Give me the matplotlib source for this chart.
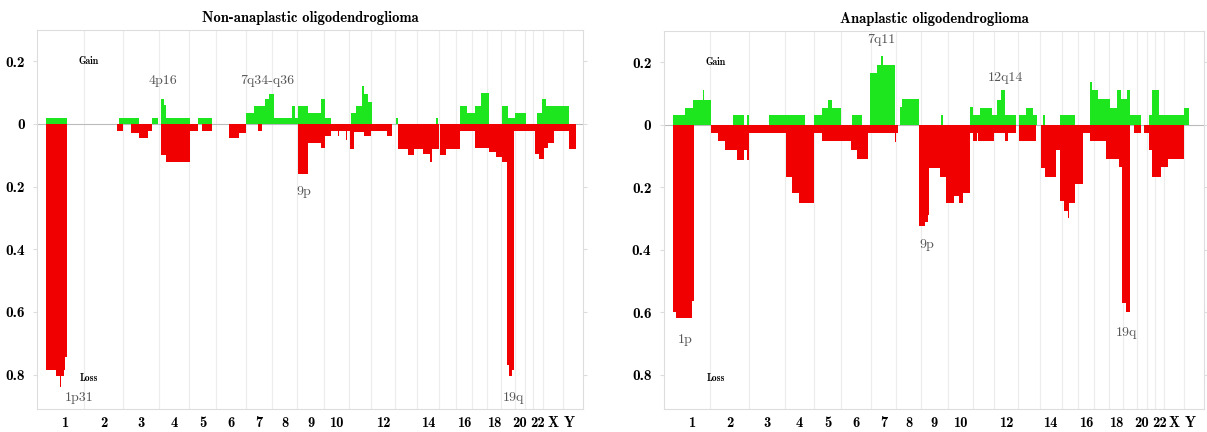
import matplotlib
matplotlib.use("Agg")
import matplotlib.pyplot as plt
import numpy as np

# chromosome widths along the genome axis (1..22, X, Y)
chrom_names = [str(i) for i in range(1, 23)] + ["X", "Y"]
chrom_len = [38, 39, 36, 30, 27, 30, 26, 25, 27, 25, 22, 24, 22, 22, 17, 16,
             15, 14, 14, 10, 8, 10, 20, 13]
shown_labels = ["1", "2", "3", "4", "5", "6", "7", "8", "9", "10", "12", "14",
                "16", "18", "20", "22", "X", "Y"]

# (start, end, frequency) segments, non-anaplastic group
nonana_gain = [
    (0, 21.3, 0.02), (73.2, 92.5, 0.02), (105.9, 111.7, 0.02),
    (114.8, 117.5, 0.08), (117.5, 120.2, 0.06), (120.2, 144.4, 0.02),
    (152.1, 165.5, 0.02), (200.2, 207.8, 0.035), (207.8, 219.4, 0.057),
    (219.4, 223.2, 0.08), (223.2, 227.8, 0.095), (227.8, 246.3, 0.02),
    (246.3, 248.5, 0.057), (248.5, 252.1, 0.02), (252.1, 261.7, 0.057),
    (261.7, 275.2, 0.035), (275.2, 279, 0.08), (279, 284.8, 0.02),
    (304.8, 309.8, 0.035), (309.8, 315.5, 0.057), (315.5, 317.5, 0.12),
    (317.5, 322, 0.095), (322, 326.3, 0.07), (350.2, 351.5, 0.02),
    (390, 391.5, 0.02), (413.6, 421.3, 0.057), (421.3, 429, 0.035),
    (429, 434.8, 0.057), (434.8, 442.5, 0.098), (455.9, 461.7, 0.057),
    (461.7, 469.4, 0.02), (469.4, 480.2, 0.035), (490.5, 496.3, 0.035),
    (496.3, 500.2, 0.08), (500.2, 523.2, 0.057),
]
nonana_loss = [
    (0, 9.8, 0.787), (9.8, 13.6, 0.805), (13.6, 14.8, 0.84),
    (14.8, 17.5, 0.805), (17.5, 19.4, 0.787), (19.4, 21.3, 0.745),
    (71.3, 77.1, 0.022), (84.8, 92.5, 0.03), (93.2, 102.1, 0.044),
    (102.1, 105.9, 0.022), (114.8, 120.2, 0.1), (120.2, 144.4, 0.12),
    (144.4, 152.1, 0.022), (155.9, 165.5, 0.022), (182.8, 192.5, 0.044),
    (192.5, 200.2, 0.03), (211.7, 215.5, 0.022), (252.1, 261.7, 0.16),
    (261.7, 275.2, 0.06), (275.2, 279, 0.078), (279, 284.8, 0.04),
    (284.8, 292, 0.022), (292, 293, 0.04), (293, 299.5, 0.022),
    (299.5, 300.5, 0.05), (300.5, 304, 0.022), (304, 307.8, 0.08),
    (307.8, 317.5, 0.025), (317.5, 325.2, 0.04), (325.2, 340.5, 0.022),
    (340.5, 345.5, 0.04), (352.1, 361.7, 0.08), (361.7, 367.5, 0.1),
    (367.5, 377.1, 0.08), (377.1, 384, 0.095), (384, 385.5, 0.12),
    (385.5, 392.5, 0.08), (394.4, 400.2, 0.1), (400.2, 413.6, 0.08),
    (413.6, 429, 0.022), (429, 442.5, 0.078), (442.5, 450.2, 0.09),
    (450.2, 455.9, 0.105), (455.9, 460.9, 0.12), (460.9, 462.5, 0.77),
    (462.5, 465.5, 0.805), (465.5, 467.5, 0.787), (467.5, 488.6, 0.022),
    (488.6, 492.5, 0.095), (492.5, 498.2, 0.113), (498.2, 502.1, 0.078),
    (502.1, 507.8, 0.062), (507.8, 523.2, 0.022), (523.2, 529.8, 0.08),
]

# (start, end, frequency) segments, anaplastic group
ana_gain = [
    (0, 11.8, 0.03), (11.8, 20.3, 0.054), (20.3, 30.5, 0.08),
    (30.5, 31.7, 0.11), (31.7, 38.8, 0.08), (60.7, 72.2, 0.03),
    (74.9, 77.2, 0.03), (97.2, 122, 0.03), (122, 122.8, 0.06),
    (122.8, 133.8, 0.03), (142.6, 151.1, 0.03), (151.1, 156.8, 0.054),
    (156.8, 160.7, 0.08), (160.7, 169.5, 0.054), (180.7, 191.5, 0.03),
    (199.2, 206.8, 0.165), (206.8, 210.7, 0.19), (210.7, 212.6, 0.22),
    (212.6, 224.9, 0.19), (229.9, 231.8, 0.057), (231.8, 249.2, 0.082),
    (271.5, 273.4, 0.03), (300.3, 303, 0.057), (303, 310.7, 0.03),
    (310.7, 322.2, 0.054), (322.2, 328, 0.03), (328, 331.8, 0.08),
    (331.8, 335.7, 0.11), (335.7, 347.2, 0.03), (350.3, 356.8, 0.03),
    (356.8, 364.5, 0.054), (364.5, 368.4, 0.03), (374, 376, 0.03),
    (391.5, 406.8, 0.03), (422.2, 424.2, 0.137), (424.2, 429.9, 0.11),
    (429.9, 441.5, 0.082), (441.5, 449.2, 0.054), (449.2, 453, 0.11),
    (453, 458.8, 0.082), (458.8, 461.8, 0.11), (461.8, 473.4, 0.03),
    (481.8, 484.9, 0.03), (484.9, 491.5, 0.11), (491.5, 516.5, 0.03),
    (516.5, 522.2, 0.054),
]
ana_loss = [
    (0, 3, 0.6), (3, 19.5, 0.62), (19.5, 21.5, 0.565),
    (38.8, 45.3, 0.027), (45.3, 53, 0.052), (53, 64.5, 0.082),
    (64.5, 72.2, 0.112), (72.2, 75.3, 0.082), (75.3, 77.2, 0.112),
    (77.2, 114.5, 0.027), (114.5, 120.3, 0.168), (120.3, 128, 0.22),
    (128, 142.2, 0.25), (142.2, 150.3, 0.027), (150.3, 179.9, 0.052),
    (179.9, 185.7, 0.082), (185.7, 197.2, 0.11), (197.2, 224.5, 0.027),
    (224.5, 225.5, 0.055), (225.5, 228, 0.027), (249.2, 254.9, 0.325),
    (254.9, 258, 0.31), (258, 258.8, 0.29), (258.8, 270.3, 0.138),
    (270.3, 276.1, 0.168), (276.1, 283.8, 0.25), (283.8, 289.5, 0.227),
    (289.5, 293.4, 0.25), (293.4, 300.3, 0.22), (300.3, 303, 0.027),
    (303, 307, 0.052), (307, 308.8, 0.027), (308.8, 324.2, 0.052),
    (324.2, 335.7, 0.027), (335.7, 338.8, 0.052), (338.8, 346.5, 0.027),
    (350.3, 367.6, 0.052), (372.2, 376.1, 0.138), (376.1, 387.6, 0.168),
    (387.6, 391.5, 0.082), (391.5, 395.3, 0.245), (395.3, 399.2, 0.275),
    (399.2, 400.5, 0.3), (400.5, 406.8, 0.25), (406.8, 414.5, 0.19),
    (414.5, 422.2, 0.027), (422.2, 437.6, 0.052), (437.6, 451.1, 0.11),
    (451.1, 454.2, 0.136), (454.2, 458, 0.57), (458, 461.8, 0.6),
    (466.5, 473.4, 0.027), (476.1, 481.8, 0.027), (481.8, 484.9, 0.082),
    (484.9, 493.4, 0.168), (493.4, 501.1, 0.136), (501.1, 516.5, 0.11),
]

# region labels: (x, y, text)
nonana_notes = [(117, 0.137, "4p16"), (221, 0.137, "7q34-q36"),
                (258, -0.218, "9p"), (33, -0.875, "1p31"), (467, -0.875, "19q")]
ana_notes = [(211, 0.27, "7q11"), (336, 0.15, "12q14"), (257, -0.385, "9p"),
             (12, -0.69, "1p"), (459, -0.665, "19q")]

GREEN = "#1ee61e"
RED = "#f00000"
edges = np.concatenate([[0], np.cumsum(chrom_len)])
centers = (edges[:-1] + edges[1:]) / 2


def draw_panel(ax, gain, loss, title, notes):
    for x in edges[1:-1]:
        ax.axvline(x, color="#ececec", lw=0.8, zorder=0)
    ax.axhline(0, color="#bbbbbb", lw=0.8, zorder=1)

    g = np.array(gain)
    ax.bar(g[:, 0], g[:, 2], width=g[:, 1] - g[:, 0], align="edge",
           color=GREEN, linewidth=0, zorder=2)
    l = np.array(loss)
    ax.bar(l[:, 0], -l[:, 2], width=l[:, 1] - l[:, 0], align="edge",
           color=RED, linewidth=0, zorder=2)

    ax.set_xlim(-9, edges[-1] + 7)
    ax.set_ylim(-0.91, 0.3)
    yt = [0.2, 0, -0.2, -0.4, -0.6, -0.8]
    ax.set_yticks(yt)
    ax.set_yticklabels(["0.2", "0", "0.2", "0.4", "0.6", "0.8"],
                       fontfamily="cmb10", fontsize=11)
    xt = [centers[chrom_names.index(c)] for c in shown_labels]
    ax.set_xticks(xt)
    ax.set_xticklabels(shown_labels, fontfamily="cmb10", fontsize=10.5)
    ax.tick_params(axis="x", length=0, pad=5)
    ax.tick_params(axis="y", length=3, color="#dddddd", right=True, pad=6)
    for s in ax.spines.values():
        s.set_color("#dddddd")
        s.set_linewidth(0.8)

    ax.set_title(title, fontfamily="cmb10", fontsize=10.5, pad=6)
    ax.text(43, 0.2, "Gain", fontfamily="cmb10", fontsize=7, ha="center", va="center")
    ax.text(43, -0.812, "Loss", fontfamily="cmb10", fontsize=7, ha="center", va="center")
    for x, y, t in notes:
        ax.text(x, y, t, fontfamily="cmr10", fontsize=10, color="#555555",
                ha="center", va="center")


fig = plt.figure(figsize=(12.07, 4.32), dpi=100)
ax1 = fig.add_axes([37 / 1207, 23 / 432, 546 / 1207, 379 / 432])
ax2 = fig.add_axes([664 / 1207, 23 / 432, 540 / 1207, 378 / 432])

draw_panel(ax1, nonana_gain, nonana_loss, "Non-anaplastic oligodendroglioma", nonana_notes)
draw_panel(ax2, ana_gain, ana_loss, "Anaplastic oligodendroglioma", ana_notes)

fig.savefig("out.png", dpi=100)
